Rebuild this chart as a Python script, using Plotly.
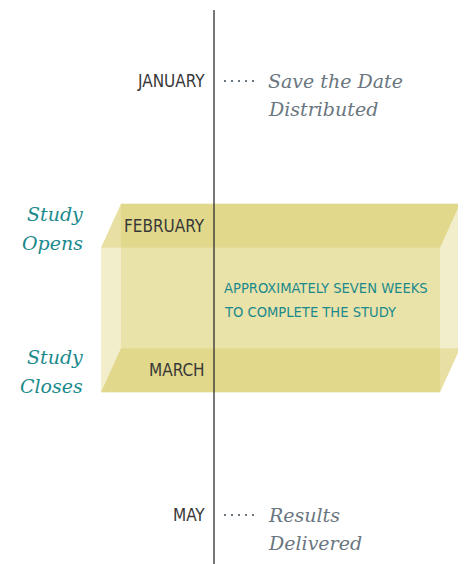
import plotly.graph_objects as go

# ---- data ----
months = ["JANUARY", "FEBRUARY", "MARCH", "MAY"]
month_pos = [0, 1, 2, 3]
events = {"JANUARY": ["Save the Date", "Distributed"], "MAY": ["Results", "Delivered"]}
study_open = ["Study", "Opens"]
study_close = ["Study", "Closes"]
study_start = 1   # February
study_end = 2     # March
duration_lines = ["APPROXIMATELY SEVEN WEEKS", "TO COMPLETE THE STUDY"]

# ---- layout constants ----
W, H = 466, 564
OFF = 8              # page body margin
PX = 144.67          # pixels per month step
Y0 = 81              # pixel of first month
def py(p):
    return (p - Y0) / PX

axis_x = 214
front_l, front_r = 101, 440
depth_x = 20
depth_y = 22 / PX

TEAL = "#1b8a8c"
GRAY = "#6a7680"
DARK = "#383838"
COND = "Liberation Sans Narrow, DejaVu Sans Condensed, Roboto, sans-serif"
SERIF = "DejaVu Serif, Liberation Serif, serif"

fig = go.Figure()

fill_light = "rgba(214,200,90,0.31)"
fill_face = "rgba(212,198,86,0.55)"

def poly(xs, ys, fc):
    fig.add_trace(go.Scatter(x=xs + [xs[0]], y=ys + [ys[0]], mode="lines", fill="toself",
                             fillcolor=fc, line=dict(width=0), hoverinfo="skip", showlegend=False))

# back face
bt, bb = study_start - depth_y, study_end - depth_y
poly([front_l + depth_x, front_r + depth_x, front_r + depth_x, front_l + depth_x], [bt, bt, bb, bb], fill_light)
# front face
ft, fb = study_start + depth_y, study_end + depth_y
poly([front_l, front_r, front_r, front_l], [ft, ft, fb, fb], fill_light)
# top face
poly([front_l + depth_x, front_r + depth_x, front_r, front_l], [bt, bt, ft, ft], fill_face)
# bottom face
poly([front_l + depth_x, front_r + depth_x, front_r, front_l], [bb, bb, fb, fb], fill_face)

# timeline axis
fig.add_trace(go.Scatter(x=[axis_x, axis_x], y=[py(10), py(H + 5)], mode="lines",
                         line=dict(color="#2e2e2e", width=1.3), hoverinfo="skip", showlegend=False))

ann = []
for m, p in zip(months, month_pos):
    ann.append(dict(x=207, y=p, text=m, xanchor="right", yanchor="middle", showarrow=False,
                    font=dict(family=COND, size=17, color=DARK)))
    if m in events:
        fig.add_trace(go.Scatter(x=[224, 258], y=[p, p], mode="lines",
                                 line=dict(color=GRAY, width=2, dash="2px,5px"),
                                 hoverinfo="skip", showlegend=False))
        l1, l2 = events[m]
        ann.append(dict(x=266, y=p, text=l1, xanchor="left", yanchor="middle", showarrow=False,
                        font=dict(family=SERIF, size=19, color=GRAY, style="italic")))
        ann.append(dict(x=266, y=p, yshift=-28, text=l2, xanchor="left", yanchor="middle", showarrow=False,
                        font=dict(family=SERIF, size=19, color=GRAY, style="italic")))

for lbl, p, shifts in [(study_open, study_start, (12, -17)), (study_close, study_end, (13, -16))]:
    for t, s in zip(lbl, shifts):
        ann.append(dict(x=85, y=p, yshift=s, text=t, xanchor="right", yanchor="middle", showarrow=False,
                        font=dict(family=SERIF, size=19, color=TEAL, style="italic")))

mid = (study_start + study_end) / 2
for t, s in zip(duration_lines, (12, -12)):
    ann.append(dict(x=222, y=mid, yshift=s - 1, text=t, xanchor="left", yanchor="middle", showarrow=False,
                    font=dict(family=COND, size=14.6, color=TEAL)))

fig.update_layout(
    width=W - OFF, height=H - OFF, margin=dict(l=0, r=0, t=0, b=0),
    paper_bgcolor="white", plot_bgcolor="white",
    xaxis=dict(range=[OFF, W], visible=False, fixedrange=True),
    yaxis=dict(range=[py(H), py(OFF)], visible=False, fixedrange=True),
    annotations=ann, showlegend=False,
)
fig.write_html("out.html")
